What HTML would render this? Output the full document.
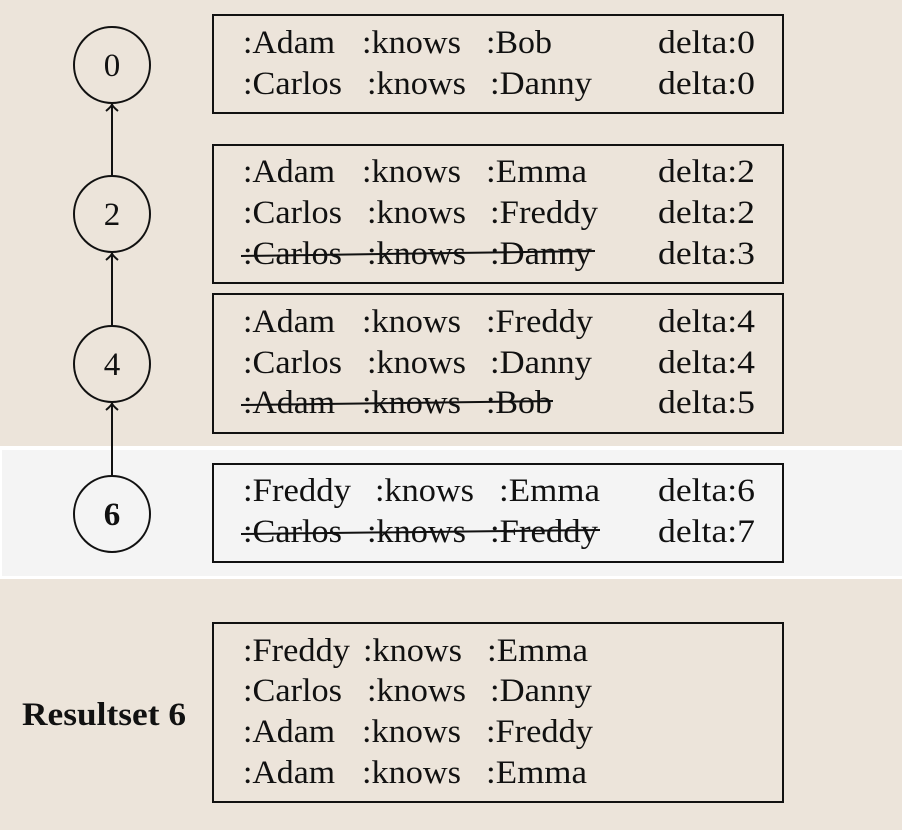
<!DOCTYPE html>
<html><head><meta charset="utf-8"><style>
html,body{margin:0;padding:0;background:#ece4da;}
svg{display:block}
text{font-family:"Liberation Serif",serif;font-size:33px;fill:#111}
</style></head><body>
<svg width="902" height="830" viewBox="0 0 902 830">
<rect x="0" y="0" width="902" height="830" fill="#ece4da"/>
<rect x="0" y="446" width="902" height="133" fill="#ffffff"/>
<rect x="2" y="450" width="900" height="126" fill="#f4f4f4"/>
<g fill="none" stroke="#111" stroke-width="2">
<rect x="213" y="15" width="570" height="98"/>
<rect x="213" y="145" width="570" height="138"/>
<rect x="213" y="294" width="570" height="139"/>
<rect x="213" y="464" width="570" height="98"/>
<rect x="213" y="623" width="570" height="179"/>
<circle cx="112" cy="65" r="38"/>
<circle cx="112" cy="214" r="38"/>
<circle cx="112" cy="364" r="38"/>
<circle cx="112" cy="514" r="38"/>
<line x1="112" y1="104" x2="112" y2="176"/>
<line x1="112" y1="253" x2="112" y2="326"/>
<line x1="112" y1="403" x2="112" y2="476"/>
<path d="M106 111 Q112 106 112 104 Q112 106 118 111"/>
<path d="M106 260 Q112 255 112 253 Q112 255 118 260"/>
<path d="M106 410 Q112 405 112 403 Q112 405 118 410"/>
</g>
<g lengthAdjust="spacingAndGlyphs">
<text x="112" y="76" text-anchor="middle">0</text>
<text x="112" y="225" text-anchor="middle">2</text>
<text x="112" y="375" text-anchor="middle">4</text>
<text x="112" y="525" text-anchor="middle" font-weight="bold">6</text>
<text x="22" y="725" font-weight="bold" textLength="164" lengthAdjust="spacingAndGlyphs">Resultset 6</text>

<text x="243" y="53" textLength="92" lengthAdjust="spacingAndGlyphs">:Adam</text><text x="362" y="53" textLength="99" lengthAdjust="spacingAndGlyphs">:knows</text><text x="486" y="53" textLength="66" lengthAdjust="spacingAndGlyphs">:Bob</text><text x="658" y="53" textLength="97" lengthAdjust="spacingAndGlyphs">delta:0</text>
<text x="243" y="94" textLength="99" lengthAdjust="spacingAndGlyphs">:Carlos</text><text x="367" y="94" textLength="99" lengthAdjust="spacingAndGlyphs">:knows</text><text x="490" y="94" textLength="102" lengthAdjust="spacingAndGlyphs">:Danny</text><text x="658" y="94" textLength="97" lengthAdjust="spacingAndGlyphs">delta:0</text>

<text x="243" y="182" textLength="92" lengthAdjust="spacingAndGlyphs">:Adam</text><text x="362" y="182" textLength="99" lengthAdjust="spacingAndGlyphs">:knows</text><text x="486" y="182" textLength="101" lengthAdjust="spacingAndGlyphs">:Emma</text><text x="658" y="182" textLength="97" lengthAdjust="spacingAndGlyphs">delta:2</text>
<text x="243" y="223" textLength="99" lengthAdjust="spacingAndGlyphs">:Carlos</text><text x="367" y="223" textLength="99" lengthAdjust="spacingAndGlyphs">:knows</text><text x="490" y="223" textLength="108" lengthAdjust="spacingAndGlyphs">:Freddy</text><text x="658" y="223" textLength="97" lengthAdjust="spacingAndGlyphs">delta:2</text>
<text x="243" y="264" textLength="99" lengthAdjust="spacingAndGlyphs">:Carlos</text><text x="367" y="264" textLength="99" lengthAdjust="spacingAndGlyphs">:knows</text><text x="490" y="264" textLength="102" lengthAdjust="spacingAndGlyphs">:Danny</text><text x="658" y="264" textLength="97" lengthAdjust="spacingAndGlyphs">delta:3</text>
<line x1="241" y1="256" x2="595" y2="251" stroke="#111" stroke-width="2"/>

<text x="243" y="332" textLength="92" lengthAdjust="spacingAndGlyphs">:Adam</text><text x="362" y="332" textLength="99" lengthAdjust="spacingAndGlyphs">:knows</text><text x="486" y="332" textLength="107" lengthAdjust="spacingAndGlyphs">:Freddy</text><text x="658" y="332" textLength="97" lengthAdjust="spacingAndGlyphs">delta:4</text>
<text x="243" y="373" textLength="99" lengthAdjust="spacingAndGlyphs">:Carlos</text><text x="367" y="373" textLength="99" lengthAdjust="spacingAndGlyphs">:knows</text><text x="490" y="373" textLength="102" lengthAdjust="spacingAndGlyphs">:Danny</text><text x="658" y="373" textLength="97" lengthAdjust="spacingAndGlyphs">delta:4</text>
<text x="243" y="413" textLength="92" lengthAdjust="spacingAndGlyphs">:Adam</text><text x="362" y="413" textLength="99" lengthAdjust="spacingAndGlyphs">:knows</text><text x="486" y="413" textLength="66" lengthAdjust="spacingAndGlyphs">:Bob</text><text x="658" y="413" textLength="97" lengthAdjust="spacingAndGlyphs">delta:5</text>
<line x1="241" y1="405" x2="553" y2="401" stroke="#111" stroke-width="2"/>

<text x="243" y="501" textLength="108" lengthAdjust="spacingAndGlyphs">:Freddy</text><text x="375" y="501" textLength="99" lengthAdjust="spacingAndGlyphs">:knows</text><text x="499" y="501" textLength="101" lengthAdjust="spacingAndGlyphs">:Emma</text><text x="658" y="501" textLength="97" lengthAdjust="spacingAndGlyphs">delta:6</text>
<text x="243" y="542" textLength="99" lengthAdjust="spacingAndGlyphs">:Carlos</text><text x="367" y="542" textLength="99" lengthAdjust="spacingAndGlyphs">:knows</text><text x="490" y="542" textLength="108" lengthAdjust="spacingAndGlyphs">:Freddy</text><text x="658" y="542" textLength="97" lengthAdjust="spacingAndGlyphs">delta:7</text>
<line x1="241" y1="534" x2="600" y2="530" stroke="#111" stroke-width="2"/>

<text x="243" y="661" textLength="107" lengthAdjust="spacingAndGlyphs">:Freddy</text><text x="363" y="661" textLength="99" lengthAdjust="spacingAndGlyphs">:knows</text><text x="487" y="661" textLength="101" lengthAdjust="spacingAndGlyphs">:Emma</text>
<text x="243" y="701" textLength="99" lengthAdjust="spacingAndGlyphs">:Carlos</text><text x="367" y="701" textLength="99" lengthAdjust="spacingAndGlyphs">:knows</text><text x="490" y="701" textLength="102" lengthAdjust="spacingAndGlyphs">:Danny</text>
<text x="243" y="742" textLength="92" lengthAdjust="spacingAndGlyphs">:Adam</text><text x="362" y="742" textLength="99" lengthAdjust="spacingAndGlyphs">:knows</text><text x="486" y="742" textLength="107" lengthAdjust="spacingAndGlyphs">:Freddy</text>
<text x="243" y="783" textLength="92" lengthAdjust="spacingAndGlyphs">:Adam</text><text x="362" y="783" textLength="99" lengthAdjust="spacingAndGlyphs">:knows</text><text x="486" y="783" textLength="101" lengthAdjust="spacingAndGlyphs">:Emma</text>
</g>
</svg>
</body></html>
